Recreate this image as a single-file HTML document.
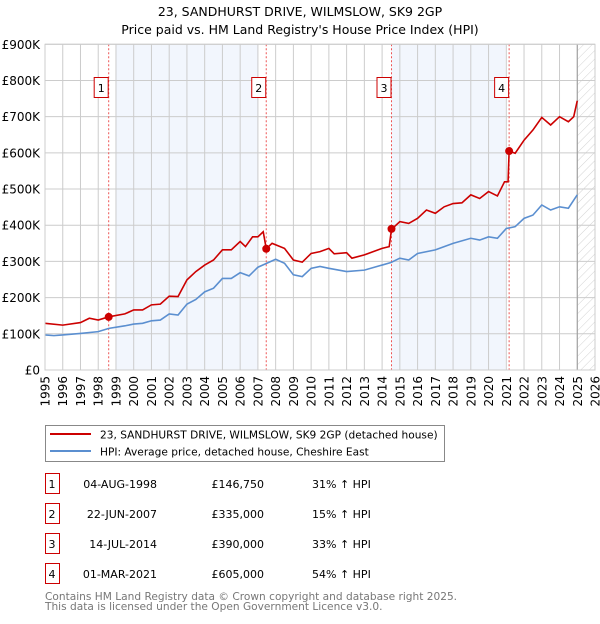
<!DOCTYPE html>
<html><head><meta charset="utf-8"><style>
body{margin:0;background:#fff;width:600px;height:620px;overflow:hidden;font-family:"DejaVu Sans","Liberation Sans",sans-serif;}
svg text{font-family:"DejaVu Sans","Liberation Sans",sans-serif;}
</style></head><body>
<svg id="c" width="600" height="620" xmlns="http://www.w3.org/2000/svg">
<defs><pattern id="hatch" width="6" height="6" patternUnits="userSpaceOnUse" patternTransform="rotate(45)"><line x1="0" y1="0" x2="0" y2="6" stroke="#c8c8c8" stroke-width="0.8"/></pattern></defs>
<text x="300" y="16" text-anchor="middle" font-size="12.5">23, SANDHURST DRIVE, WILMSLOW, SK9 2GP</text>
<text x="300" y="34" text-anchor="middle" font-size="12.5">Price paid vs. HM Land Registry's House Price Index (HPI)</text>
<g id="plot"></g>
<g>
<rect x="45.5" y="425.5" width="399" height="36" fill="#fff" stroke="#888"/>
<line x1="50" y1="434" x2="91" y2="434" stroke="#cc0000" stroke-width="2"/>
<text x="100" y="438.5" font-size="10.6">23, SANDHURST DRIVE, WILMSLOW, SK9 2GP (detached house)</text>
<line x1="50" y1="451" x2="91" y2="451" stroke="#5b8fd0" stroke-width="2"/>
<text x="100" y="455.5" font-size="10.6">HPI: Average price, detached house, Cheshire East</text>
</g>
<g id="table" font-size="11"></g>
<text x="45" y="600" font-size="10.6" fill="#777">Contains HM Land Registry data © Crown copyright and database right 2025.</text>
<text x="45" y="610" font-size="10.6" fill="#777">This data is licensed under the Open Government Licence v3.0.</text>
</svg>
<script>
const hpiYears=[1995,1995.5,1996,1997,1998,1998.6,1999.5,2000,2000.5,2001,2001.5,2002,2002.5,2003,2003.5,2004,2004.5,2005,2005.5,2006,2006.5,2007,2007.5,2008,2008.5,2009,2009.5,2010,2010.5,2011,2012,2013,2014,2014.5,2015,2015.5,2016,2017,2017.5,2018,2019,2019.5,2020,2020.5,2021,2021.5,2022,2022.5,2023,2023.5,2024,2024.5,2025];
const hpiValues=[97,95,97,101,106,115,122,127,129,136,138,155,152,182,195,216,226,253,253,269,260,284,295,306,295,263,258,281,286,281,272,276,290,297,309,304,322,332,341,350,364,359,368,364,391,396,419,428,456,442,451,447,484];
const propYears=[1995,1996,1997,1997.5,1998,1998.59,1999.5,2000,2000.5,2001,2001.5,2002,2002.5,2003,2003.5,2004,2004.5,2005,2005.5,2006,2006.3,2006.7,2007,2007.3,2007.47,2007.8,2008.5,2009,2009.5,2010,2010.5,2011,2011.3,2012,2012.3,2013,2013.5,2014,2014.4,2014.53,2015,2015.5,2016,2016.5,2017,2017.5,2018,2018.5,2019,2019.5,2020,2020.5,2020.9,2021.1,2021.16,2021.5,2022,2022.5,2023,2023.5,2024,2024.5,2024.8,2025];
const propValues=[129,124,131,143,138,147,155,166,166,180,182,204,203,249,272,290,304,332,332,355,341,368,368,382,335,350,336,304,298,322,327,336,321,324,309,318,327,336,341,389,410,405,419,442,433,451,460,462,484,474,493,481,520,520,605,599,635,663,698,677,700,686,700,744];
const saleLabels=["1","2","3","4"];
const saleYears=[1998.59,2007.47,2014.53,2021.16];
const salePrices=[146.75,335,390,605];
const saleDates=["04-AUG-1998","22-JUN-2007","14-JUL-2014","01-MAR-2021"];
const salePriceText=["£146,750","£335,000","£390,000","£605,000"];
const saleHpiText=["31% ↑ HPI","15% ↑ HPI","33% ↑ HPI","54% ↑ HPI"];
const yTicks=[0,100,200,300,400,500,600,700,800,900];
const yTickLabels=["£0","£100K","£200K","£300K","£400K","£500K","£600K","£700K","£800K","£900K"];
const shadeRanges=[[1999.0,2007.0],[2014.53,2020.95]];

const X0=45,X1=595,Y0=370,Y1=44.3;
const xs=y=>X0+(y-1995)/31*(X1-X0);
const ys=v=>Y0-v/900*(Y0-Y1);
const NS="http://www.w3.org/2000/svg";
const plot=document.getElementById('plot');
function mk(tag,attrs,parent){const e=document.createElementNS(NS,tag);for(const k in attrs)e.setAttribute(k,attrs[k]);(parent||plot).appendChild(e);return e;}

let r;
for(const s of shadeRanges){r=mk('rect',{x:xs(s[0]),y:Y1,width:xs(s[1])-xs(s[0]),height:Y0-Y1,fill:'#eef3fc',opacity:0.75});

}
r=mk('rect',{x:xs(2025),y:Y1,width:X1-xs(2025),height:Y0-Y1,fill:'url(#hatch)'});


for(let yr=1995;yr<=2026;yr++){const g=mk('line',{x1:xs(yr),x2:xs(yr),y1:Y1,y2:Y0,stroke:'#ccc','stroke-width':1});


const t=mk('text',{x:0,y:0,'font-size':12,'text-anchor':'end',transform:`translate(${xs(yr)+4.5},${Y0+6}) rotate(-90)`});t.textContent=yr;

}
yTicks.forEach((v,i)=>{const g=mk('line',{x1:X0,x2:X1,y1:ys(v),y2:ys(v),stroke:'#ccc','stroke-width':1});


const t=mk('text',{x:40,y:ys(v)+4.5,'font-size':12,'text-anchor':'end'});t.textContent=yTickLabels[i];

});
const vl=mk('line',{x1:xs(2025),x2:xs(2025),y1:Y1,y2:Y0,stroke:'#999','stroke-width':1});


saleYears.forEach((yr,i)=>{const l=mk('line',{x1:xs(yr),x2:xs(yr),y1:Y1,y2:Y0,stroke:'#e55','stroke-width':1,'stroke-dasharray':'2,2'});

});
const hp=mk('polyline',{points:hpiYears.map((y,i)=>xs(y)+','+ys(hpiValues[i])).join(' '),fill:'none',stroke:'#5b8fd0','stroke-width':1.6});


const pp=mk('polyline',{points:propYears.map((y,i)=>xs(y)+','+ys(propValues[i])).join(' '),fill:'none',stroke:'#cc0000','stroke-width':1.6});


saleYears.forEach((yr,i)=>{const c=mk('circle',{cx:xs(yr),cy:ys(salePrices[i]),r:4,fill:'#cc0000'});


const b=mk('rect',{x:xs(yr)-14.5,y:77.5,width:14,height:20,fill:'#fff',stroke:'#cc0000'});


const t=mk('text',{x:xs(yr)-7.5,y:92,'font-size':11,'text-anchor':'middle'});t.textContent=saleLabels[i];

});
const ax=mk('rect',{x:X0,y:Y1,width:X1-X0,height:Y0-Y1,fill:'none',stroke:'#ccc'});



const tbl=document.getElementById('table');
saleLabels.forEach((lab,i)=>{const cy=484+i*30;
const b=mk('rect',{x:45.5,y:cy-10.5,width:14,height:20,fill:'#fff',stroke:'#cc0000'},tbl);


const cells=[[52,lab,'middle'],[157,saleDates[i],'end'],[264,salePriceText[i],'end'],[312,saleHpiText[i],'start']];
cells.forEach(c=>{const t=mk('text',{x:c[0],y:cy+4,'text-anchor':c[2]},tbl);t.textContent=c[1];

});});
</script>
</body></html>
